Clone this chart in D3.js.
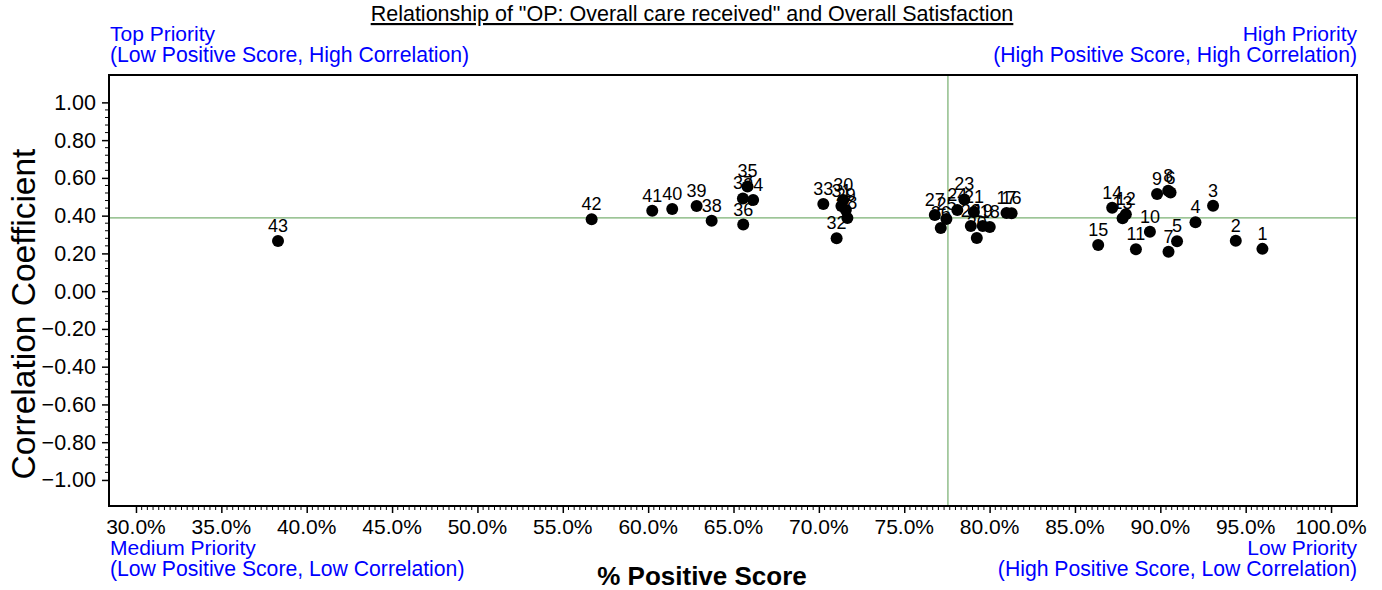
<!DOCTYPE html>
<html>
<head>
<meta charset="utf-8">
<script src="https://cdn.jsdelivr.net/npm/d3@7"></script>
<style>
  html, body { margin: 0; padding: 0; background: #fff; }
  text { font-family: "Liberation Sans", Arial, sans-serif; }
</style>
</head>
<body>
<svg id="chart" width="1382" height="590"></svg>
<script>
// ---- data ----
const ids = [1,2,3,4,5,6,7,8,9,10,11,12,13,14,15,16,17,18,19,20,21,22,23,24,25,26,27,28,29,30,31,32,33,34,35,36,37,38,39,40,41,42,43];
const positiveScore = [95.98,94.42,93.09,92.06,90.98,90.60,90.48,90.46,89.81,89.39,88.57,87.98,87.79,87.18,86.36,
  81.29,80.99,80.01,79.60,79.25,79.08,78.90,78.52,78.11,77.47,77.14,76.79,
  71.67,71.58,71.43,71.32,71.04,70.26,66.15,65.82,65.57,65.55,63.72,62.84,61.41,60.24,56.69,38.32];
const correlation = [0.224,0.267,0.453,0.365,0.264,0.522,0.209,0.532,0.515,0.315,0.222,0.407,0.386,0.442,0.245,
  0.413,0.414,0.340,0.345,0.282,0.419,0.345,0.486,0.430,0.382,0.335,0.404,
  0.388,0.430,0.483,0.451,0.280,0.462,0.483,0.555,0.353,0.491,0.373,0.451,0.435,0.426,0.381,0.266];
const xTicks = [30,35,40,45,50,55,60,65,70,75,80,85,90,95,100];
const yTicks = [-1.0,-0.8,-0.6,-0.4,-0.2,0.0,0.2,0.4,0.6,0.8,1.0];
const refX = 77.56;
const refY = 0.388;
const titleText = 'Relationship of "OP: Overall care received" and Overall Satisfaction';
const quadTL = ["Top Priority", "(Low Positive Score, High Correlation)"];
const quadTR = ["High Priority", "(High Positive Score, High Correlation)"];
const quadBL = ["Medium Priority", "(Low Positive Score, Low Correlation)"];
const quadBR = ["Low Priority", "(High Positive Score, Low Correlation)"];
const xTitle = "% Positive Score";
const yTitle = "Correlation Coefficient";

// ---- layout ----
const L = 109, R = 1357, T = 75, B = 506;
const blue = "#0000ff", green = "#5a9e50";

const svg = d3.select("#chart");
const x = d3.scaleLinear().domain([28.42, 101.52]).range([L, R]);
const y = d3.scaleLinear().domain([-1.138, 1.145]).range([B, T]);

function txt(g, tx, ty, str, anchor, size, opts = {}) {
  const t = g.append("text")
    .attr("x", tx).attr("y", ty)
    .attr("text-anchor", anchor)
    .attr("font-size", size)
    .attr("fill", opts.fill || "#000")
    .text(str);
  if (opts.weight) t.attr("font-weight", opts.weight);
  if (opts.underline) t.attr("text-decoration", "underline");
  return t;
}

// reference lines
svg.append("line").attr("x1", x(refX)).attr("x2", x(refX)).attr("y1", T).attr("y2", B)
  .attr("stroke", green).attr("stroke-width", 1);
svg.append("line").attr("x1", L).attr("x2", R).attr("y1", y(refY)).attr("y2", y(refY))
  .attr("stroke", green).attr("stroke-width", 1);

// x axis
const xAxis = d3.axisBottom(x).tickValues(xTicks).tickSize(7).tickPadding(4)
  .tickFormat(d => d.toFixed(1) + "%");
const gx = svg.append("g").attr("transform", `translate(0,${B})`).call(xAxis);
gx.select(".domain").remove();
gx.selectAll("line").attr("stroke", "#000").attr("stroke-width", 1.5);
gx.selectAll("text").remove();
xTicks.forEach(v => txt(svg, x(v), 534, d3.format(".1f")(v) + "%", "middle", 21));
const xMinor = [];
for (let i = 0; i < xTicks.length - 1; i++) {
  for (let k = 1; k < 15; k++) xMinor.push(xTicks[i] + k * 5 / 15);
}
svg.append("g").selectAll("line").data(xMinor).join("line")
  .attr("x1", d => x(d)).attr("x2", d => x(d)).attr("y1", B).attr("y2", B + 4)
  .attr("stroke", "#000").attr("stroke-width", 1);

// y axis
const yAxis = d3.axisLeft(y).tickValues(yTicks).tickSize(7);
const gy = svg.append("g").attr("transform", `translate(${L},0)`).call(yAxis);
gy.select(".domain").remove();
gy.selectAll("line").attr("stroke", "#000").attr("stroke-width", 1.5);
gy.selectAll("text").remove();
yTicks.forEach(v => txt(svg, 96, y(v) + 7.5, d3.format(".2f")(v), "end", 21.5));
const yMinor = [];
for (let i = 0; i < yTicks.length - 1; i++) {
  for (let k = 1; k < 5; k++) yMinor.push(yTicks[i] + k * 0.04);
}
svg.append("g").selectAll("line").data(yMinor).join("line")
  .attr("x1", L - 4).attr("x2", L).attr("y1", d => y(d)).attr("y2", d => y(d))
  .attr("stroke", "#000").attr("stroke-width", 1);

// frame
svg.append("rect").attr("x", L).attr("y", T).attr("width", R - L).attr("height", B - T)
  .attr("fill", "none").attr("stroke", "#000").attr("stroke-width", 2);

// points
const pts = ids.map((id, i) => ({ id, px: positiveScore[i], r: correlation[i] }));
svg.append("g").selectAll("circle").data(pts).join("circle")
  .attr("cx", d => x(d.px)).attr("cy", d => y(d.r)).attr("r", 6).attr("fill", "#000");
const lg = svg.append("g");
pts.forEach(d => txt(lg, x(d.px), y(d.r) - 9, String(d.id), "middle", 18));

// titles
txt(svg, 692, 21, titleText, "middle", 21.5, { underline: true });
txt(svg, 110, 41, quadTL[0], "start", 21, { fill: blue });
txt(svg, 110, 62, quadTL[1], "start", 21.2, { fill: blue });
txt(svg, 1357, 41, quadTR[0], "end", 21, { fill: blue });
txt(svg, 1357, 62, quadTR[1], "end", 21.2, { fill: blue });
txt(svg, 110, 555, quadBL[0], "start", 21, { fill: blue });
txt(svg, 110, 576, quadBL[1], "start", 21.2, { fill: blue });
txt(svg, 1357, 555, quadBR[0], "end", 21, { fill: blue });
txt(svg, 1357, 576, quadBR[1], "end", 21.2, { fill: blue });
txt(svg, 702, 585, xTitle, "middle", 26, { weight: "bold" });

svg.append("text")
  .attr("transform", `translate(35,314) rotate(-90)`)
  .attr("text-anchor", "middle").attr("font-size", 33.5).attr("fill", "#000")
  .text(yTitle);
</script>
</body>
</html>
